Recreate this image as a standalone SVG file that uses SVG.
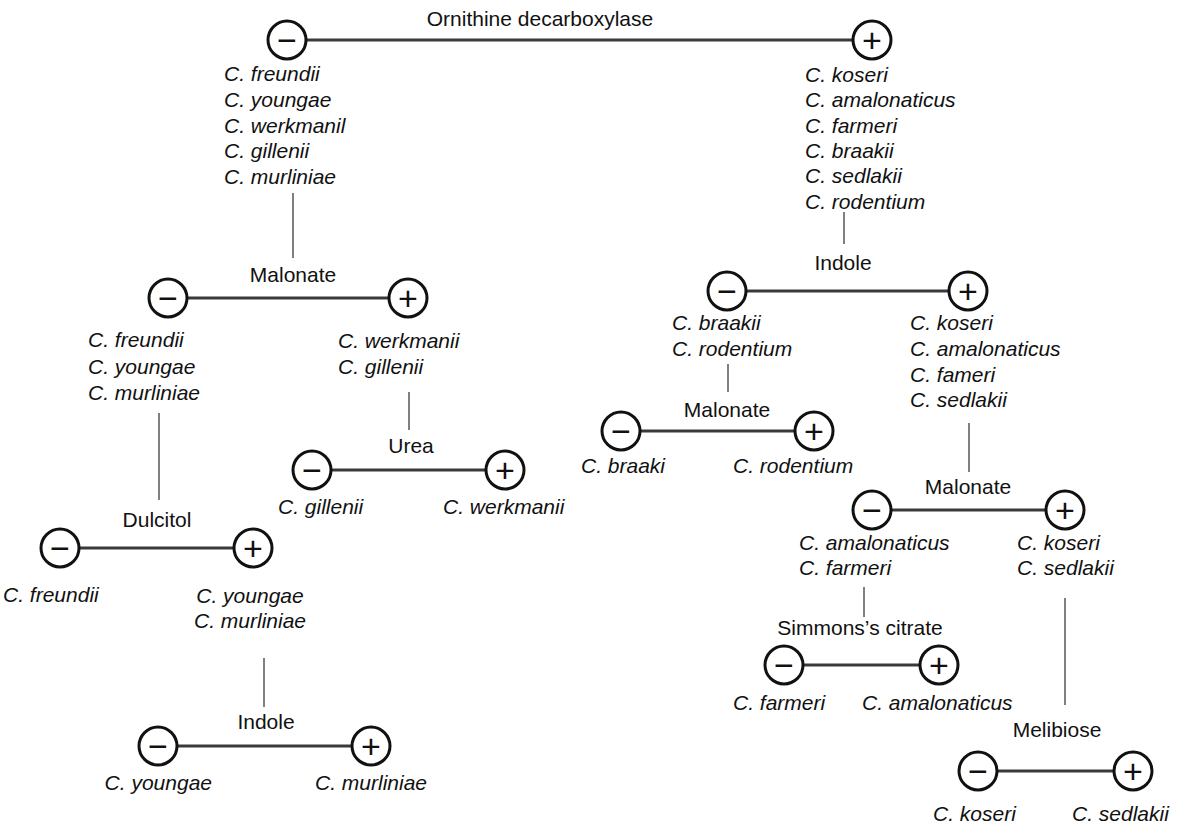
<svg xmlns="http://www.w3.org/2000/svg" width="1181" height="824" viewBox="0 0 1181 824">
<style>
.bg{fill:#ffffff}
.lbl{font-family:"Liberation Sans",Arial,sans-serif;font-size:21px;fill:#111}
.sp{font-family:"Liberation Sans",Arial,sans-serif;font-size:21px;font-style:italic;fill:#111}
.mid{text-anchor:middle}
.end{text-anchor:end}
.bar{stroke:#3a3a3a;stroke-width:3;fill:none}
.link{stroke:#808080;stroke-width:2;fill:none}
.c{fill:#ffffff;stroke:#111;stroke-width:3}
.sg{font-family:"Liberation Sans",Arial,sans-serif;font-size:34px;fill:#111;text-anchor:middle}
</style>
<rect class="bg" x="0" y="0" width="1181" height="824"/>

<g id="connectors">
<line class="link" x1="293" y1="193" x2="293" y2="258"/>
<line class="link" x1="844" y1="212" x2="844" y2="244"/>
<line class="link" x1="409" y1="392" x2="409" y2="430"/>
<line class="link" x1="159" y1="413" x2="159" y2="500"/>
<line class="link" x1="264" y1="658" x2="264" y2="707"/>
<line class="link" x1="728" y1="364" x2="728" y2="392"/>
<line class="link" x1="969" y1="423" x2="969" y2="472"/>
<line class="link" x1="864" y1="587" x2="864" y2="617"/>
<line class="link" x1="1065" y1="598" x2="1065" y2="705"/>
</g>

<g id="test-ornithine">
<text class="lbl mid" x="540" y="26">Ornithine decarboxylase</text>
<line class="bar" x1="306" y1="40" x2="853" y2="40"/>
<circle class="c" cx="287" cy="40" r="19"/><text class="sg" x="287" y="52">−</text>
<circle class="c" cx="872" cy="40" r="19"/><text class="sg" x="872" y="52">+</text>
</g>
<g id="list-orn-neg">
<text class="sp" x="224" y="81">C. freundii</text>
<text class="sp" x="224" y="107">C. youngae</text>
<text class="sp" x="224" y="133">C. werkmanil</text>
<text class="sp" x="224" y="158">C. gillenii</text>
<text class="sp" x="224" y="184">C. murliniae</text>
</g>
<g id="list-orn-pos">
<text class="sp" x="805" y="82">C. koseri</text>
<text class="sp" x="805" y="107">C. amalonaticus</text>
<text class="sp" x="805" y="133">C. farmeri</text>
<text class="sp" x="805" y="158">C. braakii</text>
<text class="sp" x="805" y="183">C. sedlakii</text>
<text class="sp" x="805" y="209">C. rodentium</text>
</g>

<g id="test-malonate-left">
<text class="lbl mid" x="293" y="282">Malonate</text>
<line class="bar" x1="187" y1="298" x2="389" y2="298"/>
<circle class="c" cx="168" cy="298" r="19"/><text class="sg" x="168" y="310">−</text>
<circle class="c" cx="408" cy="298" r="19"/><text class="sg" x="408" y="310">+</text>
</g>
<g id="list-mal-left-neg">
<text class="sp" x="88" y="347">C. freundii</text>
<text class="sp" x="88" y="374">C. youngae</text>
<text class="sp" x="88" y="400">C. murliniae</text>
</g>
<g id="list-mal-left-pos">
<text class="sp" x="338" y="348">C. werkmanii</text>
<text class="sp" x="338" y="374">C. gillenii</text>
</g>

<g id="test-urea">
<text class="lbl mid" x="411" y="453">Urea</text>
<line class="bar" x1="331" y1="470" x2="486" y2="470"/>
<circle class="c" cx="312" cy="470" r="19"/><text class="sg" x="312" y="482">−</text>
<circle class="c" cx="505" cy="470" r="19"/><text class="sg" x="505" y="482">+</text>
</g>
<g id="list-urea-neg"><text class="sp" x="278" y="514">C. gillenii</text></g>
<g id="list-urea-pos"><text class="sp" x="443" y="514">C. werkmanii</text></g>

<g id="test-dulcitol">
<text class="lbl mid" x="157" y="527">Dulcitol</text>
<line class="bar" x1="79" y1="548" x2="234" y2="548"/>
<circle class="c" cx="60" cy="548" r="19"/><text class="sg" x="60" y="560">−</text>
<circle class="c" cx="253" cy="548" r="19"/><text class="sg" x="253" y="560">+</text>
</g>
<g id="list-dulc-neg"><text class="sp" x="3" y="602">C. freundii</text></g>
<g id="list-dulc-pos">
<text class="sp mid" x="250" y="603">C. youngae</text>
<text class="sp mid" x="250" y="628">C. murliniae</text>
</g>

<g id="test-indole-left">
<text class="lbl mid" x="266" y="729">Indole</text>
<line class="bar" x1="177" y1="746" x2="352" y2="746"/>
<circle class="c" cx="158" cy="746" r="19"/><text class="sg" x="158" y="758">−</text>
<circle class="c" cx="371" cy="746" r="19"/><text class="sg" x="371" y="758">+</text>
</g>
<g id="list-ind-left-neg"><text class="sp end" x="212" y="790">C. youngae</text></g>
<g id="list-ind-left-pos"><text class="sp" x="315" y="790">C. murliniae</text></g>

<g id="test-indole-right">
<text class="lbl mid" x="843" y="270">Indole</text>
<line class="bar" x1="746" y1="291" x2="949" y2="291"/>
<circle class="c" cx="727" cy="291" r="19"/><text class="sg" x="727" y="303">−</text>
<circle class="c" cx="968" cy="291" r="19"/><text class="sg" x="968" y="303">+</text>
</g>
<g id="list-ind-right-neg">
<text class="sp" x="672" y="330">C. braakii</text>
<text class="sp" x="672" y="356">C. rodentium</text>
</g>
<g id="list-ind-right-pos">
<text class="sp" x="910" y="330">C. koseri</text>
<text class="sp" x="910" y="356">C. amalonaticus</text>
<text class="sp" x="910" y="382">C. fameri</text>
<text class="sp" x="910" y="407">C. sedlakii</text>
</g>

<g id="test-malonate-mid">
<text class="lbl mid" x="727" y="417">Malonate</text>
<line class="bar" x1="640" y1="431" x2="795" y2="431"/>
<circle class="c" cx="621" cy="431" r="19"/><text class="sg" x="621" y="443">−</text>
<circle class="c" cx="814" cy="431" r="19"/><text class="sg" x="814" y="443">+</text>
</g>
<g id="list-mal-mid-neg"><text class="sp end" x="665" y="473">C. braaki</text></g>
<g id="list-mal-mid-pos"><text class="sp" x="733" y="473">C. rodentium</text></g>

<g id="test-malonate-right">
<text class="lbl mid" x="968" y="494">Malonate</text>
<line class="bar" x1="891" y1="510" x2="1046" y2="510"/>
<circle class="c" cx="872" cy="510" r="19"/><text class="sg" x="872" y="522">−</text>
<circle class="c" cx="1065" cy="510" r="19"/><text class="sg" x="1065" y="522">+</text>
</g>
<g id="list-mal-right-neg">
<text class="sp" x="799" y="550">C. amalonaticus</text>
<text class="sp" x="799" y="575">C. farmeri</text>
</g>
<g id="list-mal-right-pos">
<text class="sp" x="1017" y="550">C. koseri</text>
<text class="sp" x="1017" y="575">C. sedlakii</text>
</g>

<g id="test-simmons">
<text class="lbl mid" x="860" y="635">Simmons’s citrate</text>
<line class="bar" x1="803" y1="665" x2="920" y2="665"/>
<circle class="c" cx="784" cy="665" r="19"/><text class="sg" x="784" y="677">−</text>
<circle class="c" cx="939" cy="665" r="19"/><text class="sg" x="939" y="677">+</text>
</g>
<g id="list-sim-neg"><text class="sp" x="733" y="710">C. farmeri</text></g>
<g id="list-sim-pos"><text class="sp" x="862" y="710">C. amalonaticus</text></g>

<g id="test-melibiose">
<text class="lbl mid" x="1057" y="737">Melibiose</text>
<line class="bar" x1="997" y1="771" x2="1114" y2="771"/>
<circle class="c" cx="978" cy="771" r="19"/><text class="sg" x="978" y="783">−</text>
<circle class="c" cx="1133" cy="771" r="19"/><text class="sg" x="1133" y="783">+</text>
</g>
<g id="list-meli-neg"><text class="sp" x="933" y="821">C. koseri</text></g>
<g id="list-meli-pos"><text class="sp" x="1072" y="821">C. sedlakii</text></g>
</svg>
